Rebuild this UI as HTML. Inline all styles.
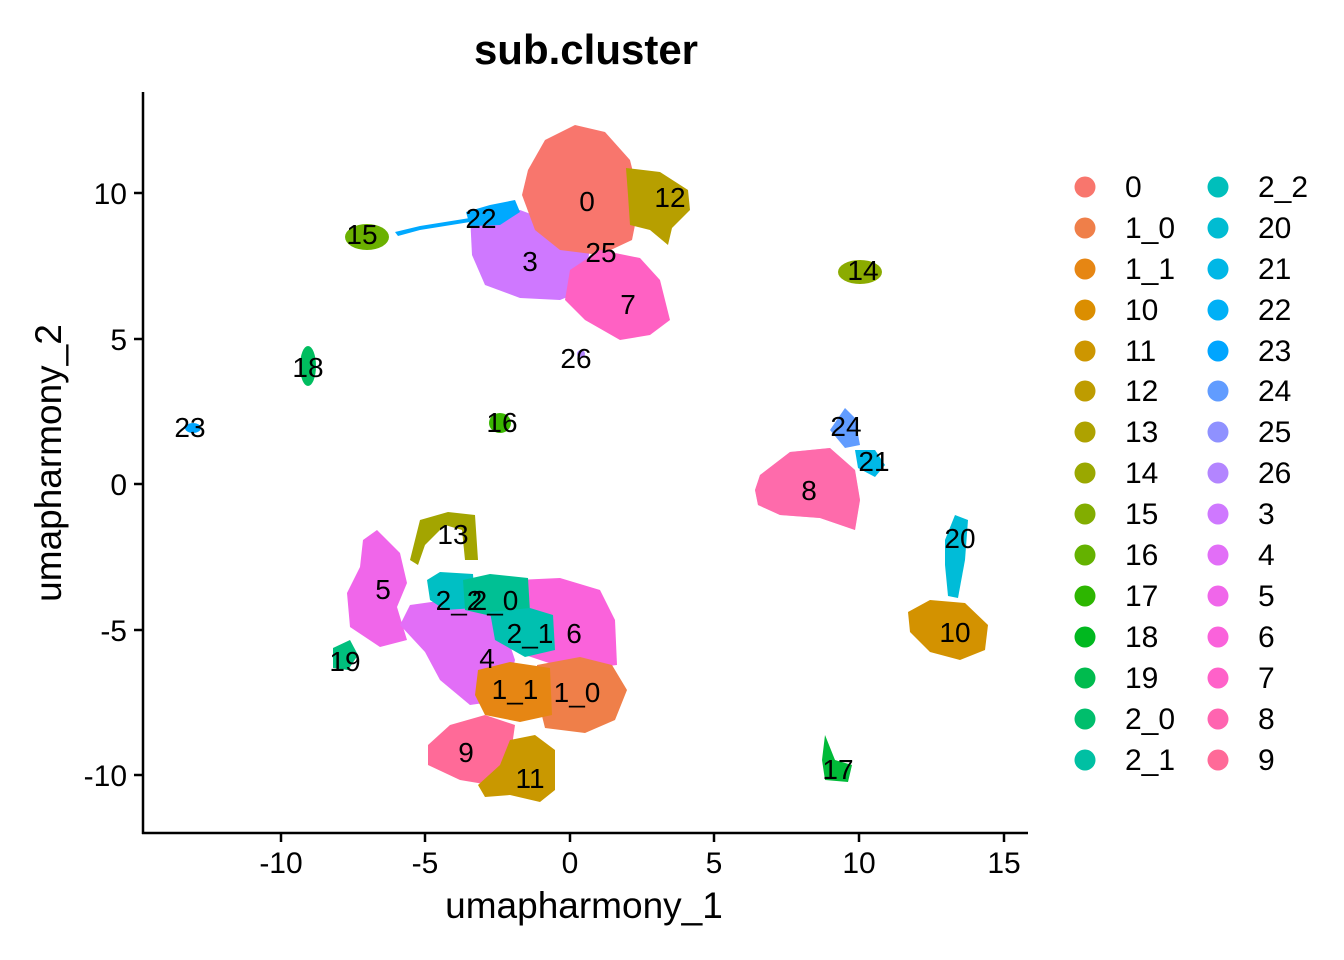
<!DOCTYPE html>
<html><head><meta charset="utf-8"><style>
body{margin:0;background:#fff;}
svg{display:block;font-family:"Liberation Sans",Arial,sans-serif;}
</style></head><body>
<svg width="1344" height="960" viewBox="0 0 1344 960" xmlns="http://www.w3.org/2000/svg">
<rect width="1344" height="960" fill="#fff"/>
<text x="586" y="64" font-size="42" font-weight="bold" text-anchor="middle">sub.cluster</text>
<!-- axes -->
<line x1="143" y1="92" x2="143" y2="834" stroke="#000" stroke-width="2.5"/>
<line x1="142" y1="833" x2="1028" y2="833" stroke="#000" stroke-width="2.5"/>
<g stroke="#000" stroke-width="2.5">
<line x1="281" y1="833" x2="281" y2="842"/><line x1="425" y1="833" x2="425" y2="842"/><line x1="570" y1="833" x2="570" y2="842"/><line x1="714" y1="833" x2="714" y2="842"/><line x1="859" y1="833" x2="859" y2="842"/><line x1="1004" y1="833" x2="1004" y2="842"/>
<line x1="134" y1="193" x2="143" y2="193"/><line x1="134" y1="339" x2="143" y2="339"/><line x1="134" y1="484" x2="143" y2="484"/><line x1="134" y1="630" x2="143" y2="630"/><line x1="134" y1="775" x2="143" y2="775"/>
</g>
<g font-size="30" fill="#000" text-anchor="middle">
<text x="281" y="873">-10</text><text x="425" y="873">-5</text><text x="570" y="873">0</text><text x="714" y="873">5</text><text x="859" y="873">10</text><text x="1004" y="873">15</text>
</g>
<g font-size="30" fill="#000" text-anchor="end">
<text x="127" y="204">10</text><text x="127" y="350">5</text><text x="127" y="495">0</text><text x="127" y="641">-5</text><text x="127" y="786">-10</text>
</g>
<text x="584" y="918" font-size="37" text-anchor="middle">umapharmony_1</text>
<text x="61" y="463" font-size="37" text-anchor="middle" transform="rotate(-90 61 463)">umapharmony_2</text>

<!-- clusters -->
<g>
<path d="M470,215 L520,210 L560,225 L590,245 L585,290 L560,300 L520,298 L485,285 L472,255 Z" fill="#CF78FF"/>
<path d="M528,170 L545,140 L575,125 L605,132 L630,160 L640,200 L632,240 L600,255 L560,250 L535,230 L522,195 Z" fill="#F8766D"/>
<path d="M626,168 L660,172 L688,190 L690,210 L672,228 L668,245 L650,230 L630,225 L628,195 Z" fill="#B79F00"/>
<path d="M570,270 L600,250 L640,258 L660,280 L670,320 L650,335 L620,340 L585,320 L565,300 Z" fill="#FF61C3"/>
<path d="M466,212 L490,205 L515,200 L520,212 L500,225 L470,226 Z" fill="#00A9FF"/>
<path d="M395,232 L420,226 L470,218 L470,222 L420,230 L398,236 Z" fill="#00A9FF"/>
<ellipse cx="367" cy="237" rx="22" ry="13" fill="#6BB100"/>
<ellipse cx="860" cy="272" rx="22" ry="12" fill="#8BAB00"/>
<ellipse cx="308" cy="366" rx="8" ry="20" fill="#00BD5F"/>
<ellipse cx="193" cy="428" rx="8" ry="5" fill="#00A5FF"/>
<ellipse cx="500" cy="423" rx="11" ry="10" fill="#39B600"/>
<ellipse cx="581" cy="354" rx="4" ry="4" fill="#B385FF"/>
<path d="M830,430 L845,408 L855,418 L860,445 L845,448 Z" fill="#619CFF"/>
<path d="M855,450 L875,450 L885,465 L875,477 L858,468 Z" fill="#00B8E7"/>
<path d="M760,475 L790,452 L830,448 L855,470 L860,500 L855,530 L820,518 L780,515 L758,505 L755,490 Z" fill="#FD61D1" opacity="0.95"/>
<path d="M760,475 L790,452 L830,448 L855,470 L860,500 L855,530 L820,518 L780,515 L758,505 L755,490 Z" fill="#FF6C91" opacity="0.6"/>
<path d="M945,540 L955,515 L968,520 L965,560 L958,598 L948,596 L945,565 Z" fill="#00BCD8"/>
<path d="M908,612 L930,600 L965,603 L988,625 L985,650 L960,660 L930,652 L910,632 Z" fill="#D39200"/>
<path d="M825,735 L835,760 L852,765 L848,782 L825,780 L822,760 Z" fill="#00BA38"/>
<path d="M410,560 L420,520 L448,512 L475,515 L478,560 L465,560 L462,530 L445,525 L425,545 L418,565 Z" fill="#A3A500"/>
<path d="M363,540 L377,530 L400,553 L407,583 L397,607 L407,640 L380,647 L350,627 L347,593 L360,567 Z" fill="#F066EA"/>
<path d="M410,605 L460,598 L500,615 L515,660 L505,700 L470,705 L440,680 L425,652 L400,625 Z" fill="#E26EF7"/>
<path d="M517,580 L560,578 L600,590 L615,620 L617,665 L570,670 L525,655 L515,610 Z" fill="#FA62DB"/>
<path d="M427,580 L440,572 L473,574 L475,608 L445,610 L430,600 Z" fill="#00BFC4"/>
<path d="M463,580 L490,574 L528,578 L530,612 L500,618 L465,610 Z" fill="#00C094"/>
<path d="M490,612 L530,608 L553,615 L555,650 L525,657 L495,640 Z" fill="#00C0B0"/>
<path d="M537,665 L580,657 L612,665 L627,690 L615,720 L585,733 L545,728 L538,700 Z" fill="#EF7F49"/>
<path d="M478,670 L510,662 L550,668 L552,715 L520,722 L485,715 L475,695 Z" fill="#E68613"/>
<path d="M428,745 L450,725 L485,715 L515,725 L510,760 L490,785 L460,780 L428,765 Z" fill="#FF6A98"/>
<path d="M478,785 L500,765 L510,740 L535,735 L555,750 L555,790 L540,802 L510,795 L485,797 Z" fill="#C99800"/>
<path d="M333,648 L350,640 L358,655 L348,670 L333,668 Z" fill="#00BF7D"/>
</g>
<!-- cluster labels -->
<g font-size="28" fill="#000" text-anchor="middle">
<text x="587" y="211">0</text><text x="670" y="207">12</text><text x="481" y="228">22</text><text x="601" y="262">25</text>
<text x="530" y="271">3</text><text x="628" y="314">7</text><text x="362" y="244">15</text><text x="863" y="280">14</text>
<text x="576" y="368">26</text><text x="308" y="377">18</text><text x="190" y="437">23</text><text x="502" y="432">16</text>
<text x="846" y="436">24</text><text x="874" y="471">21</text><text x="809" y="500">8</text><text x="960" y="548">20</text>
<text x="955" y="642">10</text><text x="838" y="779">17</text><text x="453" y="544">13</text><text x="383" y="599">5</text>
<text x="459" y="610">2_2</text><text x="495" y="610">2_0</text><text x="530" y="643">2_1</text><text x="574" y="643">6</text>
<text x="487" y="668">4</text><text x="515" y="699">1_1</text><text x="577" y="702">1_0</text><text x="466" y="762">9</text>
<text x="530" y="788">11</text><text x="345" y="671">19</text>
</g>
<!-- legend -->
<g>
<circle cx="1085" cy="187" r="10.5" fill="#F8766D"/><circle cx="1085" cy="228" r="10.5" fill="#EF7F49"/><circle cx="1085" cy="269" r="10.5" fill="#E68613"/><circle cx="1085" cy="310" r="10.5" fill="#DB8E00"/><circle cx="1085" cy="351" r="10.5" fill="#CD9600"/><circle cx="1085" cy="391" r="10.5" fill="#BE9C00"/><circle cx="1085" cy="432" r="10.5" fill="#AEA200"/><circle cx="1085" cy="473" r="10.5" fill="#9AA800"/><circle cx="1085" cy="514" r="10.5" fill="#82AD00"/><circle cx="1085" cy="555" r="10.5" fill="#64B200"/><circle cx="1085" cy="596" r="10.5" fill="#2DB600"/><circle cx="1085" cy="637" r="10.5" fill="#00B81F"/><circle cx="1085" cy="678" r="10.5" fill="#00BB4E"/><circle cx="1085" cy="719" r="10.5" fill="#00BE6C"/><circle cx="1085" cy="760" r="10.5" fill="#00C0A3"/>
<circle cx="1218" cy="187" r="10.5" fill="#00BFBB"/><circle cx="1218" cy="228" r="10.5" fill="#00BCD2"/><circle cx="1218" cy="269" r="10.5" fill="#00B7E6"/><circle cx="1218" cy="310" r="10.5" fill="#00B0F6"/><circle cx="1218" cy="351" r="10.5" fill="#00A5FF"/><circle cx="1218" cy="391" r="10.5" fill="#619CFF"/><circle cx="1218" cy="432" r="10.5" fill="#8F91FF"/><circle cx="1218" cy="473" r="10.5" fill="#B385FF"/><circle cx="1218" cy="514" r="10.5" fill="#CF78FF"/><circle cx="1218" cy="555" r="10.5" fill="#E26EF7"/><circle cx="1218" cy="596" r="10.5" fill="#F066EA"/><circle cx="1218" cy="637" r="10.5" fill="#FA62DB"/><circle cx="1218" cy="678" r="10.5" fill="#FF61C9"/><circle cx="1218" cy="719" r="10.5" fill="#FF64B0"/><circle cx="1218" cy="760" r="10.5" fill="#FF6A98"/>
</g>
<g font-size="30" fill="#000">
<text x="1125" y="197">0</text><text x="1125" y="238">1_0</text><text x="1125" y="279">1_1</text><text x="1125" y="320">10</text><text x="1125" y="361">11</text><text x="1125" y="401">12</text><text x="1125" y="442">13</text><text x="1125" y="483">14</text><text x="1125" y="524">15</text><text x="1125" y="565">16</text><text x="1125" y="606">17</text><text x="1125" y="647">18</text><text x="1125" y="688">19</text><text x="1125" y="729">2_0</text><text x="1125" y="770">2_1</text>
<text x="1258" y="197">2_2</text><text x="1258" y="238">20</text><text x="1258" y="279">21</text><text x="1258" y="320">22</text><text x="1258" y="361">23</text><text x="1258" y="401">24</text><text x="1258" y="442">25</text><text x="1258" y="483">26</text><text x="1258" y="524">3</text><text x="1258" y="565">4</text><text x="1258" y="606">5</text><text x="1258" y="647">6</text><text x="1258" y="688">7</text><text x="1258" y="729">8</text><text x="1258" y="770">9</text>
</g>
</svg>
</body></html>
